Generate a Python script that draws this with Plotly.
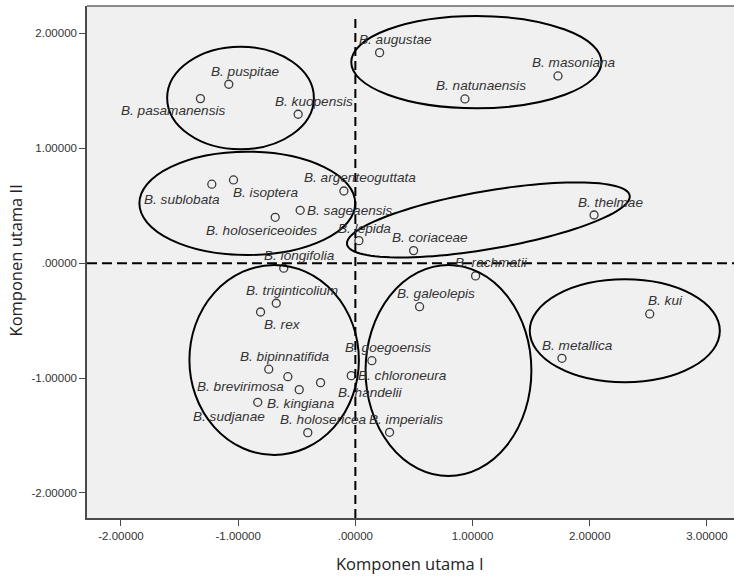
import numpy as np
import plotly.graph_objects as go

# ---------------- data ----------------
species = [
    "B. augustae", "B. masoniana", "B. natunaensis", "B. puspitae", "B. pasamanensis",
    "B. kuopensis", "B. sublobata", "B. isoptera", "B. argenteoguttata", "B. sageaensis",
    "B. holosericeoides", "B. lepida", "B. coriaceae", "B. thelmae", "B. longifolia",
    "B. rachmatii", "B. galeolepis", "B. kui", "B. metallica", "B. triginticolium",
    "B. rex", "B. bipinnatifida", "B. brevirimosa", "B. handelii", "B. sudjanae",
    "B. kingiana", "B. holosericea", "B. goegoensis", "B. chloroneura", "B. imperialis",
]
pc1 = [0.207, 1.729, 0.935, -1.080, -1.322,
       -0.488, -1.225, -1.040, -0.098, -0.471,
       -0.684, 0.030, 0.497, 2.037, -0.611,
       1.026, 0.548, 2.512, 1.763, -0.675,
       -0.809, -0.739, -0.576, -0.297, -0.479,
       -0.833, -0.406, 0.141, -0.035, 0.292]
pc2 = [1.832, 1.629, 1.429, 1.557, 1.432,
       1.296, 0.687, 0.724, 0.628, 0.460,
       0.399, 0.196, 0.109, 0.419, -0.044,
       -0.111, -0.379, -0.442, -0.828, -0.349,
       -0.425, -0.923, -0.988, -1.040, -1.101,
       -1.211, -1.475, -0.849, -0.979, -1.472]

tick_vals = [-2, -1, 0, 1, 2, 3]
x_tick_text = ["-2.00000", "-1.00000", ".00000", "1.00000", "2.00000", "3.00000"]
y_tick_vals = [-2, -1, 0, 1, 2]
y_tick_text = ["-2.00000", "-1.00000", ".00000", "1.00000", "2.00000"]

# ---------------- label placement (pixel offsets, anchor) ----------------
std = (16, 13, "center")
label_offsets = {
    "B. pasamanensis": (-27, -12, "center"),
    "B. sublobata": (-30, -15, "center"),
    "B. isoptera": (32, -13, "center"),
    "B. sageaensis": (5, 0, "left"),
    "B. holosericeoides": (-14, -13, "center"),
    "B. lepida": (6, 12, "center"),
    "B. chloroneura": (5, 0, "left"),
    "B. handelii": (49, -10, "center"),
    "B. brevirimosa": (-47, -10, "center"),
    "B. kingiana": (7, -1, "left"),
    "B. sudjanae": (-70, -27, "center"),
    "B. rex": (22, -13, "center"),
}

SX, SY = 117.1, 114.9  # px per data unit

fig = go.Figure()
fig.add_trace(go.Scatter(
    x=pc1, y=pc2, mode="markers",
    marker=dict(symbol="circle-open", size=8, color="#3a3a3a", line=dict(width=1.3)),
    hoverinfo="text", text=species, showlegend=False,
))

annotations = []
for name, x, y in zip(species, pc1, pc2):
    dx, dy, anc = label_offsets.get(name, std)
    annotations.append(dict(
        x=x, y=y, xref="x", yref="y", text=name, showarrow=False,
        xanchor=anc, yanchor="middle", xshift=dx, yshift=dy,
        font=dict(family="Liberation Sans, Arial", size=13.6, color="#333333", style="italic"),
    ))

title_font = dict(family="Open Sans, Noto Sans", size=16.5, color="#222222")
annotations.append(dict(text="Komponen utama I", xref="paper", yref="paper", x=0.499, y=0,
                        yshift=-45, xanchor="center", yanchor="middle", showarrow=False,
                        font=title_font))
annotations.append(dict(text="Komponen utama II", xref="paper", yref="paper", x=0, y=0.503,
                        xshift=-72, xanchor="center", yanchor="middle", showarrow=False,
                        textangle=-90, font=title_font))

shapes = []
ell_line = dict(color="black", width=2)
# axis-aligned ellipses (x0, x1, y0, y1)
for (x0, x1, y0, y1) in [(-1.606, -0.354, 0.991, 1.884),
                         (-1.843, -0.001, 0.071, 0.970),
                         (-0.035, 2.100, 1.348, 2.151),
                         (-1.416, 0.030, -1.669, -0.016),
                         (0.087, 1.502, -1.852, -0.016),
                         (1.488, 3.110, -1.037, -0.140)]:
    shapes.append(dict(type="circle", xref="x", yref="y", x0=x0, x1=x1, y0=y0, y1=y1,
                       line=ell_line, layer="above"))

# tilted ellipse (center in data, semi-axes in px, angle in degrees on screen)
def tilted(cx, cy, a_px, b_px, ang_deg, n=120):
    t = np.linspace(0, 2 * np.pi, n)
    th = np.deg2rad(ang_deg)
    px = a_px * np.cos(t) * np.cos(th) - b_px * np.sin(t) * np.sin(th)
    py = a_px * np.cos(t) * np.sin(th) + b_px * np.sin(t) * np.cos(th)
    xs = cx + px / SX
    ys = cy + py / SY
    return "M " + " L ".join(f"{a:.4f},{b:.4f}" for a, b in zip(xs, ys)) + " Z"

shapes.append(dict(type="path", xref="x", yref="y", path=tilted(1.135, 0.376, 143.3, 29, 9.8),
                   line=ell_line, layer="above"))

# dashed reference lines
shapes.append(dict(type="line", xref="x", yref="paper", x0=0, x1=0, y0=0, y1=0.982,
                   line=dict(color="black", width=2, dash="9px,5px")))
shapes.append(dict(type="line", xref="paper", yref="y", x0=0, x1=1, y0=0, y1=0,
                   line=dict(color="black", width=2, dash="10px,5px")))
# top frame
shapes.append(dict(type="line", xref="paper", yref="paper", x0=0, x1=1, y0=1, y1=1,
                   line=dict(color="#8a8a8a", width=2)))

tick_font = dict(family="Liberation Sans, Arial", size=11.5, color="#333333")

fig.update_layout(
    width=734, height=579,
    margin=dict(l=87, r=0, t=6, b=61),
    paper_bgcolor="white", plot_bgcolor="#f0f0f0",
    shapes=shapes, annotations=annotations,
    xaxis=dict(range=[-2.290, 3.231], tickvals=tick_vals, ticktext=x_tick_text,
               automargin=False,
               showgrid=False, zeroline=False, showline=True, linecolor="#4a4a4a", linewidth=1.5,
               ticks="outside", ticklen=6, tickcolor="#4a4a4a", tickfont=tick_font),
    yaxis=dict(range=[-2.218, 2.238], tickvals=y_tick_vals, ticktext=y_tick_text,
               automargin=False,
               showgrid=False, zeroline=False, showline=True, linecolor="#4a4a4a", linewidth=1.5,
               ticks="outside", ticklen=6, tickcolor="#4a4a4a", tickfont=tick_font),
)

fig.write_html(
    "out.html",
    config={"displayModeBar": False},
    post_script="document.body.style.margin='0';document.body.style.overflow='hidden';",
)
